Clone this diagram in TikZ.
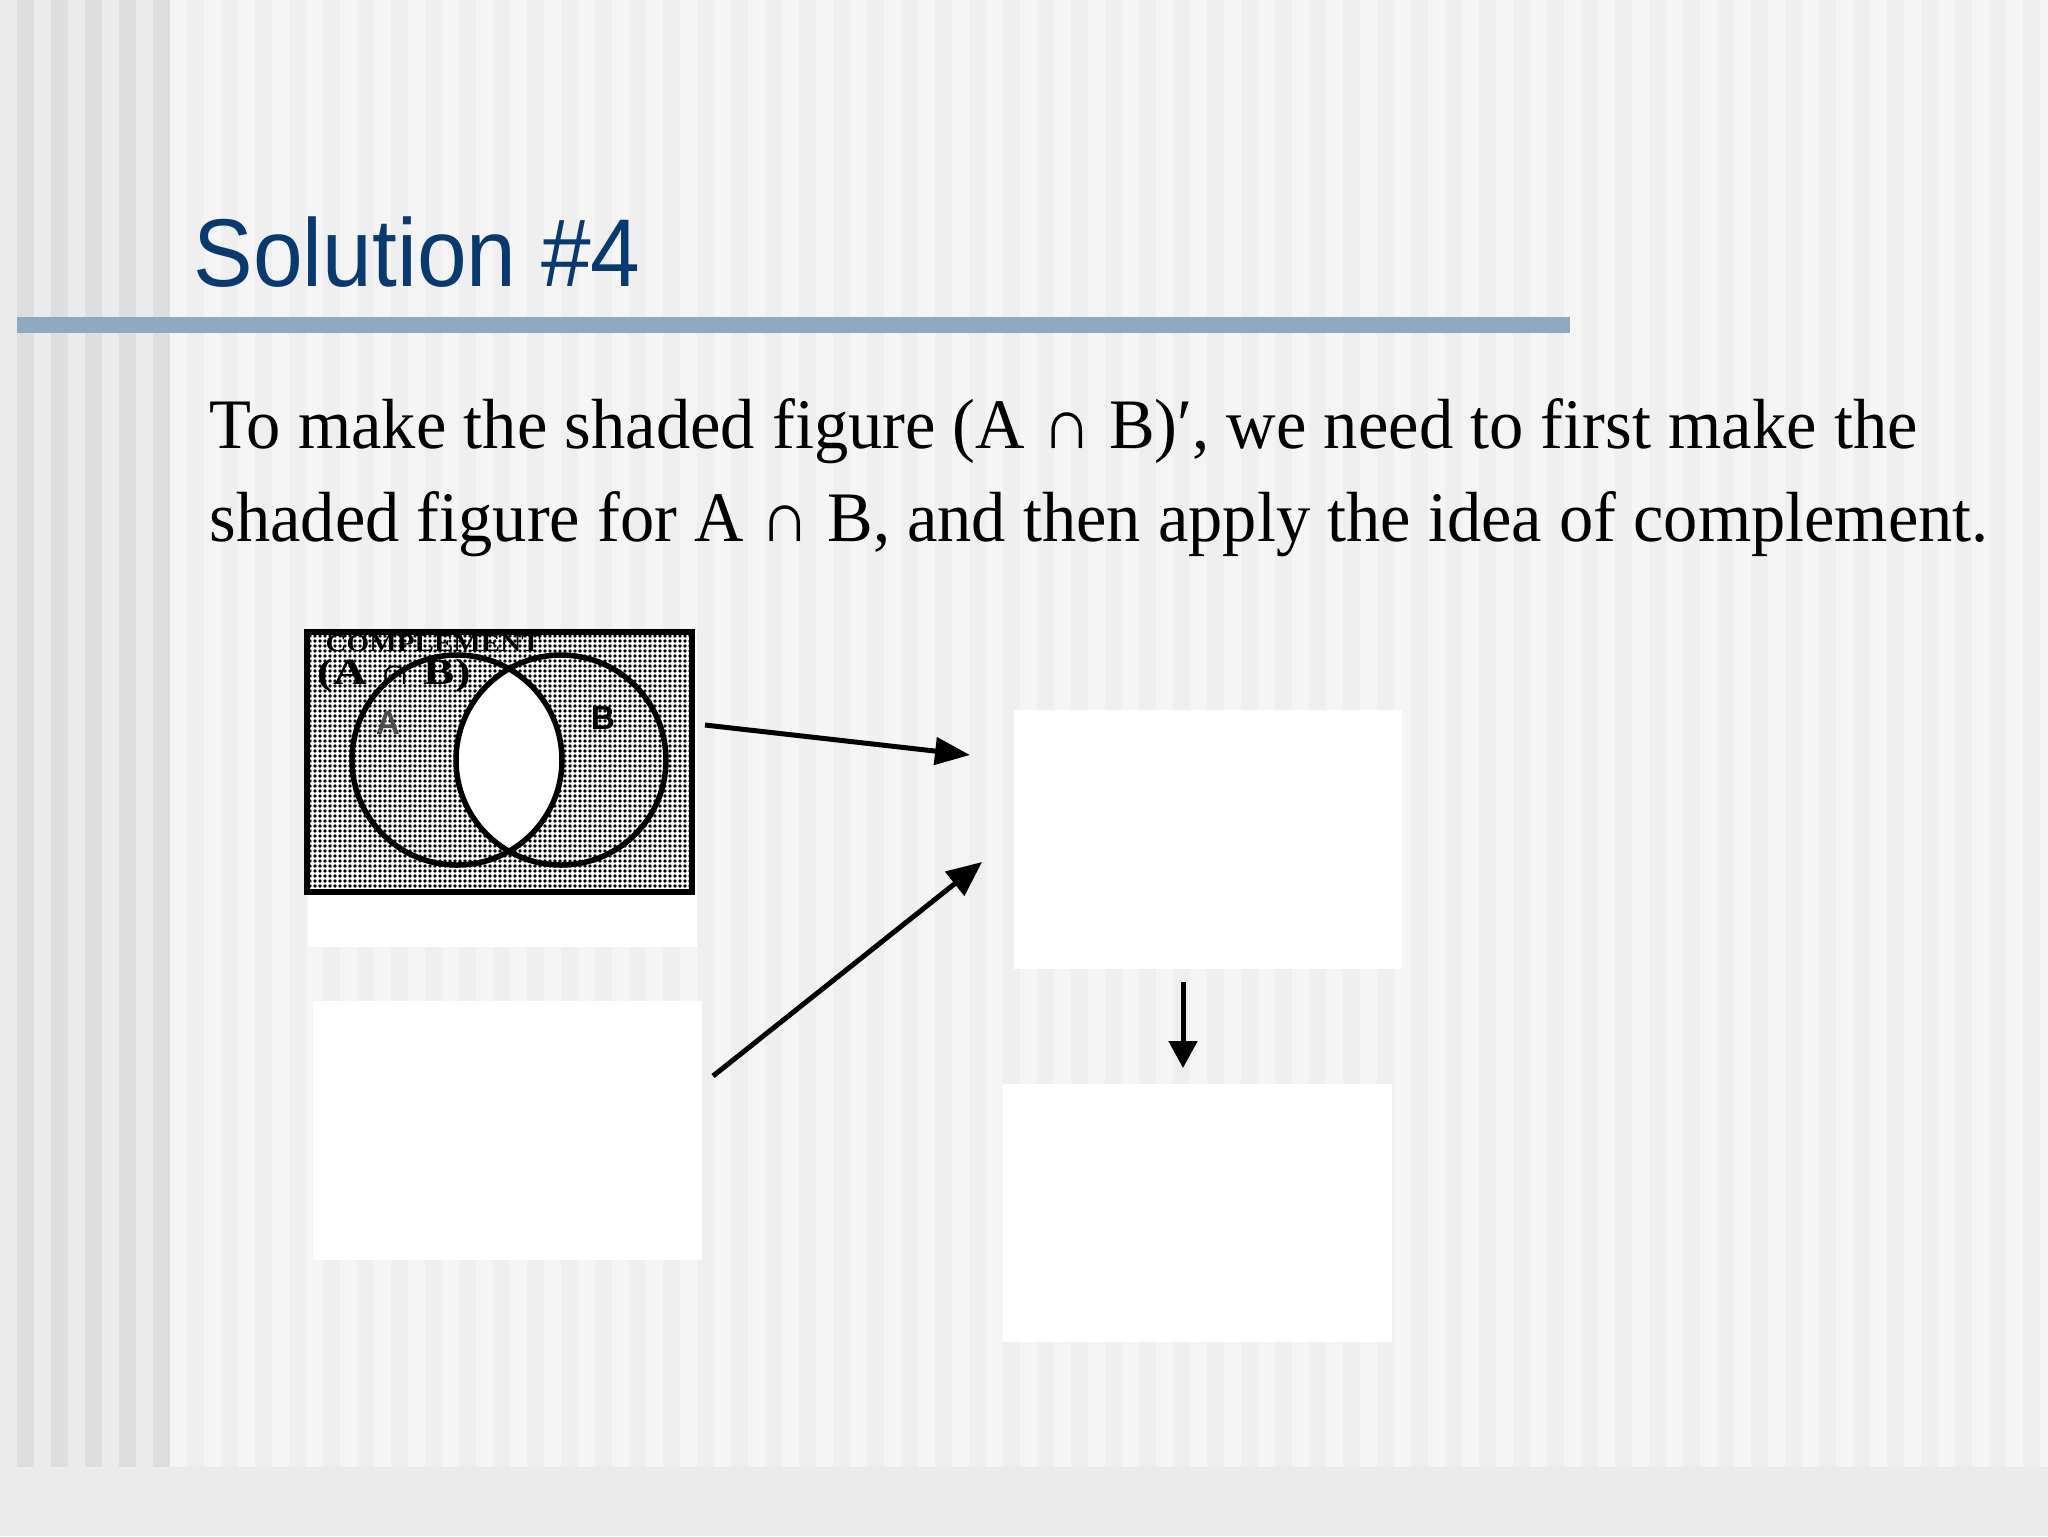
\documentclass[tikz,border=0pt]{standalone}
\usepackage{fontspec}
\setmainfont{Liberation Serif}
\newfontfamily\titlefont{Liberation Sans}
\usetikzlibrary{arrows.meta,patterns.meta}
\definecolor{bgA}{HTML}{F5F5F5}
\definecolor{bgB}{HTML}{EFEFEF}
\definecolor{bgL}{HTML}{EBEBEB}
\definecolor{bgLD}{HTML}{DEDEDE}
\definecolor{bgBot}{HTML}{EBEBEB}
\definecolor{barblue}{HTML}{8FA9C2}
\definecolor{titleblue}{HTML}{083A6F}
\tikzset{
  whitebox/.style={fill=white, draw=none, inner sep=0, anchor=north west},
  arrowline/.style={line width=0.5mm, -{Triangle[length=3.5mm,width=2.7mm]}},
  txt/.style={anchor=base west, inner sep=0},
}
\begin{document}
\begin{tikzpicture}[x=0.1mm, y=-0.1mm]
\useasboundingbox (0,0) rectangle (2048,1536);
% background
\fill[bgB] (0,0) rectangle (2048,1536);
\foreach \x in {170,204,...,2040} \fill[bgA] (\x,0) rectangle ({\x+17},1467);
\fill[bgL] (0,0) rectangle (170,1467);
\foreach \x in {17,51,85,119,153} \fill[bgLD] (\x,0) rectangle ({\x+17},1467);
\fill[bgBot] (0,1467) rectangle (2048,1536);
% title
\node[txt, text=titleblue] (title) at (193,286) {\resizebox{44.7mm}{\height}{\titlefont\fontsize{27.4pt}{30pt}\selectfont Solution \#4}};
\fill[barblue] (17,317) rectangle (1570,333);
% body text
\node[txt] (l1) at (209,448) {\resizebox{170.8mm}{\height}{\fontsize{20.2pt}{24pt}\selectfont To make the shaded figure (A ∩ B)′, we need to first make the}};
\node[txt] (l2) at (209,541) {\resizebox{177.9mm}{\height}{\fontsize{20.2pt}{24pt}\selectfont shaded figure for A ∩ B, and then apply the idea of complement.}};
% venn picture frame
\node[whitebox, minimum width=38.9mm, minimum height=31.4mm] (venn) at (307,632) {};
\fill[white] (307,632) rectangle (692,892);
\pattern[pattern={Dots[distance=0.5mm, radius=0.19mm]}, pattern color=black] (307,632) rectangle (692,892);
\begin{scope}
  \clip (457,760) circle[radius=10.5mm];
  \fill[white] (561,760) circle[radius=10.5mm];
\end{scope}
\draw[line width=0.55mm] (457,760) circle[radius=10.5mm];
\draw[line width=0.55mm] (561,760) circle[radius=10.5mm];
\draw[line width=0.55mm] (307,632) rectangle (692,892);
\node[anchor=south west, inner sep=0] (comp) at (325,652) {\resizebox{21.5mm}{\height}{\bfseries\fontsize{7pt}{8pt}\selectfont COMPLEMENT}};
\node[anchor=north west, inner sep=0] (aib) at (317,658) {\resizebox{15.3mm}{\height}{\bfseries\fontsize{10.5pt}{12pt}\selectfont (A ∩ B)}};
\node[text=black!70, font=\titlefont\bfseries\fontsize{9.5pt}{10pt}\selectfont] (la) at (388,723) {A};
\node[font=\titlefont\bfseries\fontsize{9.5pt}{10pt}\selectfont] (lb) at (603,718) {B};
% empty boxes
\node[whitebox, minimum width=38.8mm, minimum height=25.9mm] (r1) at (1013,709) {};
\node[whitebox, minimum width=38.9mm, minimum height=25.8mm] (r2) at (1002,1083) {};
\node[whitebox, minimum width=38.9mm, minimum height=25.9mm] (l2box) at (312,1000) {};
% arrows
\coordinate (a1s) at (705,725);
\coordinate (a1e) at (970,755);
\coordinate (a2s) at (713,1076);
\coordinate (a2e) at (982,862);
\coordinate (a3s) at (1183,982);
\coordinate (a3e) at (1183,1068);
\draw[arrowline] (a1s) -- (a1e);
\draw[line width=0.5mm, -{Triangle[length=3.5mm,width=3.0mm]}] (a2s) -- (a2e);
\draw[line width=0.5mm, -{Triangle[length=2.7mm,width=2.8mm]}] (a3s) -- (a3e);
\end{tikzpicture}
\end{document}
